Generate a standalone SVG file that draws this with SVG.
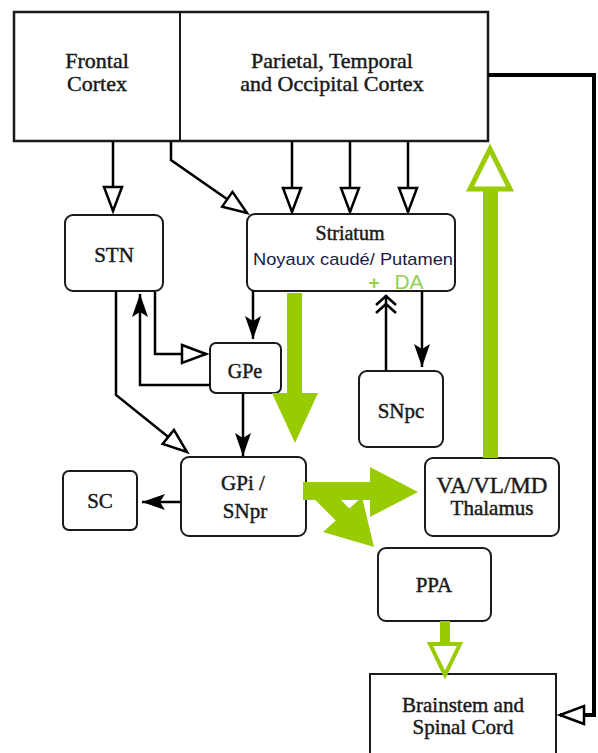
<svg xmlns="http://www.w3.org/2000/svg" width="598" height="753" viewBox="0 0 598 753">
<style>
.box{fill:#fff;stroke:#1a1a1a;stroke-width:2}
.t{font-family:"Liberation Serif","Times New Roman",serif;fill:#1a1a1a;stroke:#1a1a1a;stroke-width:0.45;text-anchor:middle}
.s{font-family:"Liberation Sans",Arial,sans-serif;text-anchor:middle}
.ln{fill:none;stroke:#000;stroke-width:2.5}
.g{fill:#99cc00}
.go{fill:#fff;stroke:#99cc00;stroke-linejoin:miter}
</style>
<defs>
<marker id="open" markerUnits="userSpaceOnUse" viewBox="-3 -3 30 24" markerWidth="30" markerHeight="24" refX="24" refY="9" orient="auto">
<path d="M0,0 L24,9 L0,18 Z" fill="#fff" stroke="#000" stroke-width="2.5"/>
</marker>
<marker id="fill" markerUnits="userSpaceOnUse" viewBox="-1 -1 26 18" markerWidth="26" markerHeight="18" refX="23" refY="8" orient="auto">
<path d="M0,0 L23,8 L0,16 L5,8 Z" fill="#000"/>
</marker>
</defs>

<g id="cortex">
<rect x="14" y="12" width="474" height="129" fill="#fff" stroke="#1a1a1a" stroke-width="2.5"/>
<line x1="180" y1="12" x2="180" y2="141" stroke="#1a1a1a" stroke-width="2"/>
</g>
<g id="frontal">
<text class="t" x="97" y="68" font-size="22">Frontal</text>
<text class="t" x="97" y="91" font-size="22">Cortex</text>
</g>
<g id="parietal">
<text class="t" x="332" y="68" font-size="22">Parietal, Temporal</text>
<text class="t" x="332" y="91" font-size="22">and Occipital Cortex</text>
</g>

<g id="stn">
<rect class="box" x="65" y="215" width="98" height="76" rx="8"/>
<text class="t" x="114" y="262" font-size="21">STN</text>
</g>
<g id="striatum">
<rect class="box" x="247" y="214" width="208" height="77" rx="8"/>
<text class="t" x="350" y="240" font-size="20">Striatum</text>
<text class="s" x="353" y="265" font-size="17" fill="#1a1a4a" textLength="200" lengthAdjust="spacingAndGlyphs">Noyaux caudé/ Putamen</text>
<text class="s" x="374" y="289" font-size="19" fill="#92d050" font-weight="bold">+</text>
<text class="s" x="409" y="289" font-size="21" fill="#92d050">DA</text>
</g>
<g id="gpe">
<rect class="box" x="210" y="343" width="71" height="50" rx="6"/>
<text class="t" x="245" y="378" font-size="20">GPe</text>
</g>
<g id="snpc">
<rect class="box" x="359" y="371" width="84" height="76" rx="8"/>
<text class="t" x="401" y="418" font-size="21">SNpc</text>
</g>
<g id="gpi">
<rect class="box" x="181" y="457" width="125" height="79" rx="8"/>
<text class="t" x="243" y="490" font-size="21">GPi /</text>
<text class="t" x="245" y="518" font-size="21">SNpr</text>
</g>
<g id="sc">
<rect class="box" x="63" y="471" width="74" height="59" rx="6"/>
<text class="t" x="100" y="508" font-size="21">SC</text>
</g>
<g id="thalamus">
<rect class="box" x="425" y="458" width="134" height="78" rx="8"/>
<text class="t" x="492" y="493" font-size="23">VA/VL/MD</text>
<text class="t" x="492" y="515" font-size="21">Thalamus</text>
</g>
<g id="ppa">
<rect class="box" x="378" y="548" width="113" height="73" rx="8"/>
<text class="t" x="434" y="592" font-size="21">PPA</text>
</g>
<g id="brainstem">
<rect class="box" x="370" y="674" width="186" height="90"/>
<text class="t" x="463" y="712" font-size="21">Brainstem and</text>
<text class="t" x="463" y="734" font-size="21">Spinal Cord</text>
</g>

<g id="connectors">
<path class="ln" d="M113,141 V211" marker-end="url(#open)"/>
<path class="ln" d="M171,141 V160 L247,213" marker-end="url(#open)"/>
<path class="ln" d="M292,141 V212" marker-end="url(#open)"/>
<path class="ln" d="M350,141 V212" marker-end="url(#open)"/>
<path class="ln" d="M408,141 V212" marker-end="url(#open)"/>
<path d="M488,75 H594 V715 H560" fill="none" stroke="#000" stroke-width="4" marker-end="url(#open)"/>
<path class="ln" d="M253,291 V339" marker-end="url(#fill)"/>
<path class="ln" d="M155,292 V354 H206" marker-end="url(#open)"/>
<path class="ln" d="M210,385 H140 V294" marker-end="url(#fill)"/>
<path class="ln" d="M116,292 V395 L187,452" marker-end="url(#open)"/>
<path class="ln" d="M243,393 V456" marker-end="url(#fill)"/>
<path class="ln" d="M181,502 H142" marker-end="url(#fill)"/>
<path class="ln" d="M386,371 V295"/>
<path class="ln" d="M376,305 L386,296 L396,305 M376,313 L386,304 L396,313"/>
<path class="ln" d="M422,291 V367" marker-end="url(#fill)"/>
<polygon class="g" points="287,293 302,293 302,393 318,393 295,443 272,393 287,393"/>
<polygon class="g" points="303,482 370,482 370,467 418,492 370,517 370,500 303,500"/>
<polygon class="g" points="324,483 349.4,508.4 362,497 374,547 323,532 335.8,520.5 311.6,496.3"/>
<rect class="g" x="483" y="190" width="15" height="268"/>
<polygon class="go" points="490,149 510,189 470,189" stroke-width="5"/>
<rect class="g" x="440" y="621" width="10" height="22"/>
<polygon class="go" points="430,644 460,644 445,675" stroke-width="4"/>
</g>
</svg>
